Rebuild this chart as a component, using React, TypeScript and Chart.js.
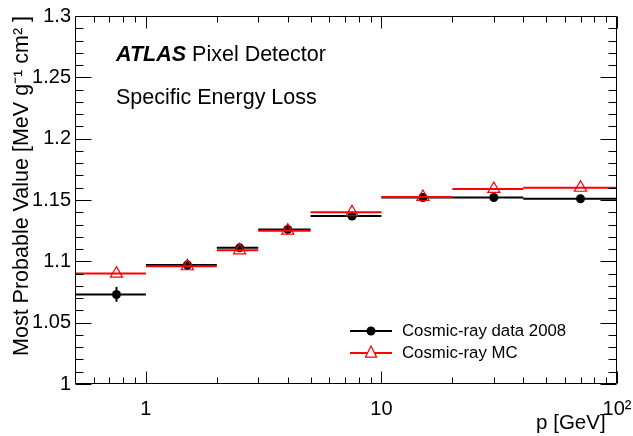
import React, { useEffect, useRef } from "react";
import { Chart, registerables } from "chart.js";

Chart.register(...registerables);

// ---- data ----
const binEdges = [0.5, 1, 2, 3, 5, 10, 20, 40, 100];
const binCenters = [0.75, 1.5, 2.5, 4, 7.5, 15, 30, 70];
const dataValues = [1.073, 1.097, 1.111, 1.126, 1.137, 1.152, 1.152, 1.151];
const dataErrors = [0.006, 0.004, 0.003, 0.003, 0.002, 0.003, 0.002, 0.002];
const mcValues = [1.09, 1.096, 1.109, 1.125, 1.14, 1.1525, 1.159, 1.16];
const seriesLabels = ["Cosmic-ray data 2008", "Cosmic-ray MC"];

// ---- axis ticks ----
const yMajorTicks = [1, 1.05, 1.1, 1.15, 1.2, 1.25, 1.3];
const yTickLabels = ["1", "1.05", "1.1", "1.15", "1.2", "1.25", "1.3"];
const yMinorTicks = [
  1.01, 1.02, 1.03, 1.04, 1.06, 1.07, 1.08, 1.09, 1.11, 1.12, 1.13, 1.14,
  1.16, 1.17, 1.18, 1.19, 1.21, 1.22, 1.23, 1.24, 1.26, 1.27, 1.28, 1.29,
];
const xMajorTicks = [1, 10, 100];
const xTickLabels = ["1", "10", "10²"];
const xMinorTicks = [0.6, 0.7, 0.8, 0.9, 2, 3, 4, 5, 6, 7, 8, 9, 20, 30, 40, 50, 60, 70, 80, 90];

const FONT = "'Liberation Sans', Arial, Helvetica, sans-serif";

function binSegments(values: number[]) {
  const pts: { x: number; y: number | null }[] = [];
  values.forEach((v, i) => {
    pts.push({ x: binEdges[i], y: v }, { x: binEdges[i + 1], y: v }, { x: binEdges[i + 1], y: null });
  });
  return pts;
}

function errorSegments(values: number[], errs: number[]) {
  const pts: { x: number; y: number | null }[] = [];
  values.forEach((v, i) => {
    pts.push({ x: binCenters[i], y: v - errs[i] }, { x: binCenters[i], y: v + errs[i] }, { x: binCenters[i], y: null });
  });
  return pts;
}

const framePlugin = {
  id: "rootFrame",
  afterDatasetsDraw(chart: any) {
    const { ctx, chartArea: a, scales } = chart;
    const x = scales.x;
    const y = scales.y;
    ctx.save();
    ctx.strokeStyle = "#000";
    ctx.lineWidth = 1;
    ctx.beginPath();
    const L = Math.round(a.left) + 0.5;
    const R = Math.round(a.right) - 0.5;
    const T = Math.round(a.top) + 0.5;
    const B = Math.round(a.bottom) - 0.5;
    ctx.moveTo(L, T);
    ctx.lineTo(R, T);
    ctx.lineTo(R, B);
    ctx.lineTo(L, B);
    ctx.closePath();
    const yTick = (v: number, len: number) => {
      const py = Math.round(y.getPixelForValue(v)) + 0.5;
      ctx.moveTo(L, py);
      ctx.lineTo(L + len, py);
      ctx.moveTo(R, py);
      ctx.lineTo(R - len, py);
    };
    const xTick = (v: number, len: number) => {
      const px = Math.round(x.getPixelForValue(v)) + 0.5;
      ctx.moveTo(px, B);
      ctx.lineTo(px, B - len);
      ctx.moveTo(px, T);
      ctx.lineTo(px, T + len);
    };
    yMajorTicks.forEach((v) => yTick(v, 16));
    yMinorTicks.forEach((v) => yTick(v, 8));
    xMajorTicks.forEach((v) => xTick(v, 12));
    xMinorTicks.forEach((v) => xTick(v, 6));
    ctx.stroke();
    ctx.restore();
  },
  afterDraw(chart: any) {
    const { ctx } = chart;
    ctx.save();
    ctx.fillStyle = "#000";
    ctx.textBaseline = "alphabetic";
    ctx.textAlign = "left";
    ctx.font = `italic bold 21.5px ${FONT}`;
    ctx.fillText("ATLAS", 116, 61);
    const w = ctx.measureText("ATLAS").width;
    ctx.font = `21.5px ${FONT}`;
    ctx.fillText("Pixel Detector", 116 + w + 6, 61);
    ctx.fillText("Specific Energy Loss", 116, 104);

    // legend
    const lx0 = 350;
    const lx1 = 392;
    const lxm = (lx0 + lx1) / 2;
    const ly = [331, 353];
    ctx.lineWidth = 2;
    ctx.strokeStyle = "#000";
    ctx.beginPath();
    ctx.moveTo(lx0, ly[0]);
    ctx.lineTo(lx1, ly[0]);
    ctx.stroke();
    ctx.fillStyle = "#000";
    ctx.beginPath();
    ctx.arc(lxm, ly[0], 4.5, 0, Math.PI * 2);
    ctx.fill();
    ctx.strokeStyle = "#ff0000";
    ctx.beginPath();
    ctx.moveTo(lx0, ly[1]);
    ctx.lineTo(lx1, ly[1]);
    ctx.stroke();
    ctx.lineWidth = 1.2;
    const r = 7;
    ctx.fillStyle = "#fff";
    ctx.beginPath();
    ctx.moveTo(lxm, ly[1] - r);
    ctx.lineTo(lxm + r * 0.8, ly[1] + r * 0.6);
    ctx.lineTo(lxm - r * 0.8, ly[1] + r * 0.6);
    ctx.closePath();
    ctx.fill();
    ctx.stroke();

    ctx.fillStyle = "#000";
    ctx.font = `16.8px ${FONT}`;
    ctx.textBaseline = "middle";
    ctx.fillText(seriesLabels[0], 402, ly[0]);
    ctx.fillText(seriesLabels[1], 402, ly[1]);
    ctx.restore();
  },
};

export default function App() {
  const ref = useRef<HTMLCanvasElement | null>(null);

  useEffect(() => {
    if (!ref.current) return;
    const chart = new Chart(ref.current, {
      type: "scatter",
      data: {
        datasets: [
          {
            label: seriesLabels[0] + " bins",
            data: binSegments(dataValues) as any,
            showLine: true,
            spanGaps: false,
            borderColor: "#000",
            borderWidth: 2,
            pointRadius: 0,
            order: 5,
          },
          {
            label: seriesLabels[0] + " errors",
            data: errorSegments(dataValues, dataErrors) as any,
            showLine: true,
            spanGaps: false,
            borderColor: "#000",
            borderWidth: 2,
            pointRadius: 0,
            order: 4,
          },
          {
            label: seriesLabels[0],
            data: binCenters.map((c, i) => ({ x: c, y: dataValues[i] })),
            showLine: false,
            pointStyle: "circle",
            pointRadius: 4.5,
            pointBackgroundColor: "#000",
            pointBorderColor: "#000",
            pointBorderWidth: 0,
            order: 3,
          },
          {
            label: seriesLabels[1] + " bins",
            data: binSegments(mcValues) as any,
            showLine: true,
            spanGaps: false,
            borderColor: "#ff0000",
            borderWidth: 2,
            pointRadius: 0,
            order: 2,
          },
          {
            label: seriesLabels[1],
            data: binCenters.map((c, i) => ({ x: c, y: mcValues[i] })),
            showLine: false,
            pointStyle: "triangle",
            pointRadius: 7,
            pointBackgroundColor: "rgba(0,0,0,0)",
            pointBorderColor: "#ff0000",
            pointBorderWidth: 1.2,
            order: 1,
          },
        ],
      },
      options: {
        responsive: false,
        animation: false,
        events: [],
        layout: { padding: { left: 0, right: 16, top: 16, bottom: 0 } },
        plugins: {
          legend: { display: false },
          tooltip: { enabled: false },
        },
        scales: {
          x: {
            type: "logarithmic",
            min: 0.5,
            max: 100,
            position: "bottom",
            grid: { display: false, drawTicks: false },
            border: { display: false },
            afterBuildTicks: (s: any) => {
              s.ticks = xMajorTicks.map((v) => ({ value: v }));
            },
            afterFit: (s: any) => {
              s.height = 52;
              s.paddingLeft = 0;
              s.paddingRight = 0;
            },
            ticks: {
              autoSkip: false,
              maxRotation: 0,
              padding: 13,
              color: "#000",
              font: { family: FONT, size: 20 },
              callback: (_v: any, i: number) => xTickLabels[i],
            },
            title: {
              display: true,
              text: "p [GeV]  ",
              align: "end",
              color: "#000",
              font: { family: FONT, size: 20.5 },
              padding: { top: 0, bottom: 0 },
            },
          },
          y: {
            type: "linear",
            min: 1,
            max: 1.3,
            grid: { display: false, drawTicks: false },
            border: { display: false },
            afterBuildTicks: (s: any) => {
              s.ticks = yMajorTicks.map((v) => ({ value: v }));
            },
            afterFit: (s: any) => {
              s.width = 75;
              s.paddingTop = 0;
              s.paddingBottom = 0;
            },
            ticks: {
              autoSkip: false,
              padding: 4,
              color: "#000",
              font: { family: FONT, size: 20 },
              callback: (_v: any, i: number) => yTickLabels[i],
            },
            title: {
              display: true,
              text: "Most Probable Value [MeV g⁻¹ cm² ]",
              align: "end",
              color: "#000",
              font: { family: FONT, size: 21.5 },
              padding: { top: 9, bottom: 0 },
            },
          },
        },
      },
      plugins: [framePlugin],
    });
    return () => chart.destroy();
  }, []);

  return (
    <div style={{ position: "fixed", left: 0, top: 0, width: 633, height: 436, background: "#fff" }}>
      <canvas ref={ref} width={633} height={436} style={{ width: 633, height: 436, display: "block" }} />
    </div>
  );
}
